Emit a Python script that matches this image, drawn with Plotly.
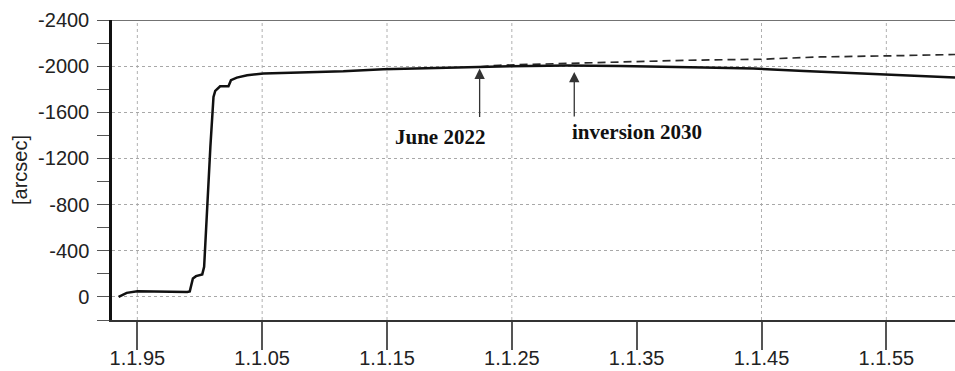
import plotly.graph_objects as go

# Observed offset (solid) and extrapolated trend (dashed), decimal years vs arcsec
obs_years = [1993.5, 1994.15, 1995.0, 1996.0, 1997.0, 1999.0, 1999.2, 1999.45, 1999.7,
             2000.2, 2000.35, 2000.6, 2000.85, 2001.1, 2001.24, 2001.63, 2002.3, 2002.5,
             2002.97, 2003.8, 2005.1, 2008.0, 2011.5, 2014.7, 2018.7, 2022.2, 2024.9,
             2029.4, 2033.7, 2040.35, 2044.36, 2048.4, 2052.4, 2055.05, 2060.5]
obs_values = [0, -35, -50, -48, -45, -43, -48, -160, -180,
              -195, -260, -800, -1300, -1733, -1785, -1826, -1826, -1878,
              -1901, -1921, -1936, -1945, -1955, -1973, -1984, -1993, -1999,
              -2005, -2001, -1988, -1979, -1958, -1941, -1930, -1901]

trend_years = [2022.5, 2024.0, 2026.7, 2030.7, 2033.7, 2035.8, 2039.0, 2045.0,
               2049.7, 2055.05, 2060.5]
trend_values = [-1995, -2008, -2016, -2027, -2031, -2036, -2051, -2060,
                -2080, -2089, -2101]

tick_years = [1995, 2005, 2015, 2025, 2035, 2045, 2055]
tick_labels = ["1.1.95", "1.1.05", "1.1.15", "1.1.25", "1.1.35", "1.1.45", "1.1.55"]
grid_years = [1995, 2005, 2015, 2025, 2045, 2055]

y_ticks = [-2400, -2000, -1600, -1200, -800, -400, 0]
y_labels = ["-2400", "-2000", "-1600", "-1200", "-800", "-400", "0"]

fig = go.Figure()
fig.add_trace(go.Scatter(x=trend_years, y=trend_values, mode="lines",
                         line=dict(color="#2a2a2a", width=1.7, dash="8px,5px"),
                         hoverinfo="skip"))
fig.add_trace(go.Scatter(x=obs_years, y=obs_values, mode="lines",
                         line=dict(color="#111111", width=2.5),
                         hoverinfo="skip"))

# vertical dotted grid lines
for gx in grid_years:
    fig.add_shape(type="line", xref="x", yref="paper", x0=gx, x1=gx, y0=0, y1=1,
                  line=dict(color="#b0b0b0", width=1, dash="dot"), layer="below")
# top frame line
fig.add_shape(type="line", xref="paper", yref="y", x0=0, x1=1, y0=-2400, y1=-2400,
              line=dict(color="#444444", width=1.5))

# arrows
arrow_common = dict(showarrow=True, arrowhead=2, arrowsize=1.6, arrowwidth=1.3,
                    arrowcolor="#333333", text="", axref="pixel", ayref="pixel", ax=0)
fig.add_annotation(x=2022.42, y=-1979, ay=50, **arrow_common)
fig.add_annotation(x=2030.0, y=-1950, ay=46, **arrow_common)

label_font = dict(family="Liberation Serif", size=21, color="#111111")
fig.add_annotation(x=2019.25, y=-1385, text="<b>June 2022</b>", showarrow=False,
                   xanchor="center", yanchor="middle", font=label_font)
fig.add_annotation(x=2029.67, y=-1430, text="<b>inversion 2030</b>", showarrow=False,
                   xanchor="left", yanchor="middle", font=label_font)

axis_font = dict(family="Liberation Sans", size=20, color="#222222")
fig.update_xaxes(range=[1992.97, 2060.5], tickvals=tick_years, ticktext=tick_labels,
                 showgrid=False, zeroline=False, showline=True, linecolor="#333333",
                 linewidth=2, ticks="outside", ticklen=28, tickwidth=1.5,
                 tickcolor="#555555", tickfont=axis_font, automargin=False,
                 ticklabelstandoff=-9)
fig.update_yaxes(range=[200, -2400], tickvals=y_ticks, ticktext=y_labels, showgrid=True,
                 gridcolor="#a8a8a8", griddash="dot", gridwidth=1, zeroline=False,
                 showline=True, linecolor="#111111", linewidth=2.5,
                 ticks="outside", ticklen=12, tickwidth=1.3, tickcolor="#555555",
                 minor=dict(dtick=200, tick0=0, ticks="outside", ticklen=12,
                            tickwidth=1.3, tickcolor="#555555", showgrid=False),
                 tickfont=axis_font, automargin=False, ticklabelstandoff=4,
                 title=dict(text="[arcsec]", font=axis_font, standoff=6))

fig.update_layout(width=955, height=371, margin=dict(l=112, r=0, t=20, b=51),
                  plot_bgcolor="white", paper_bgcolor="white", showlegend=False)

fig.write_html("out.html")
